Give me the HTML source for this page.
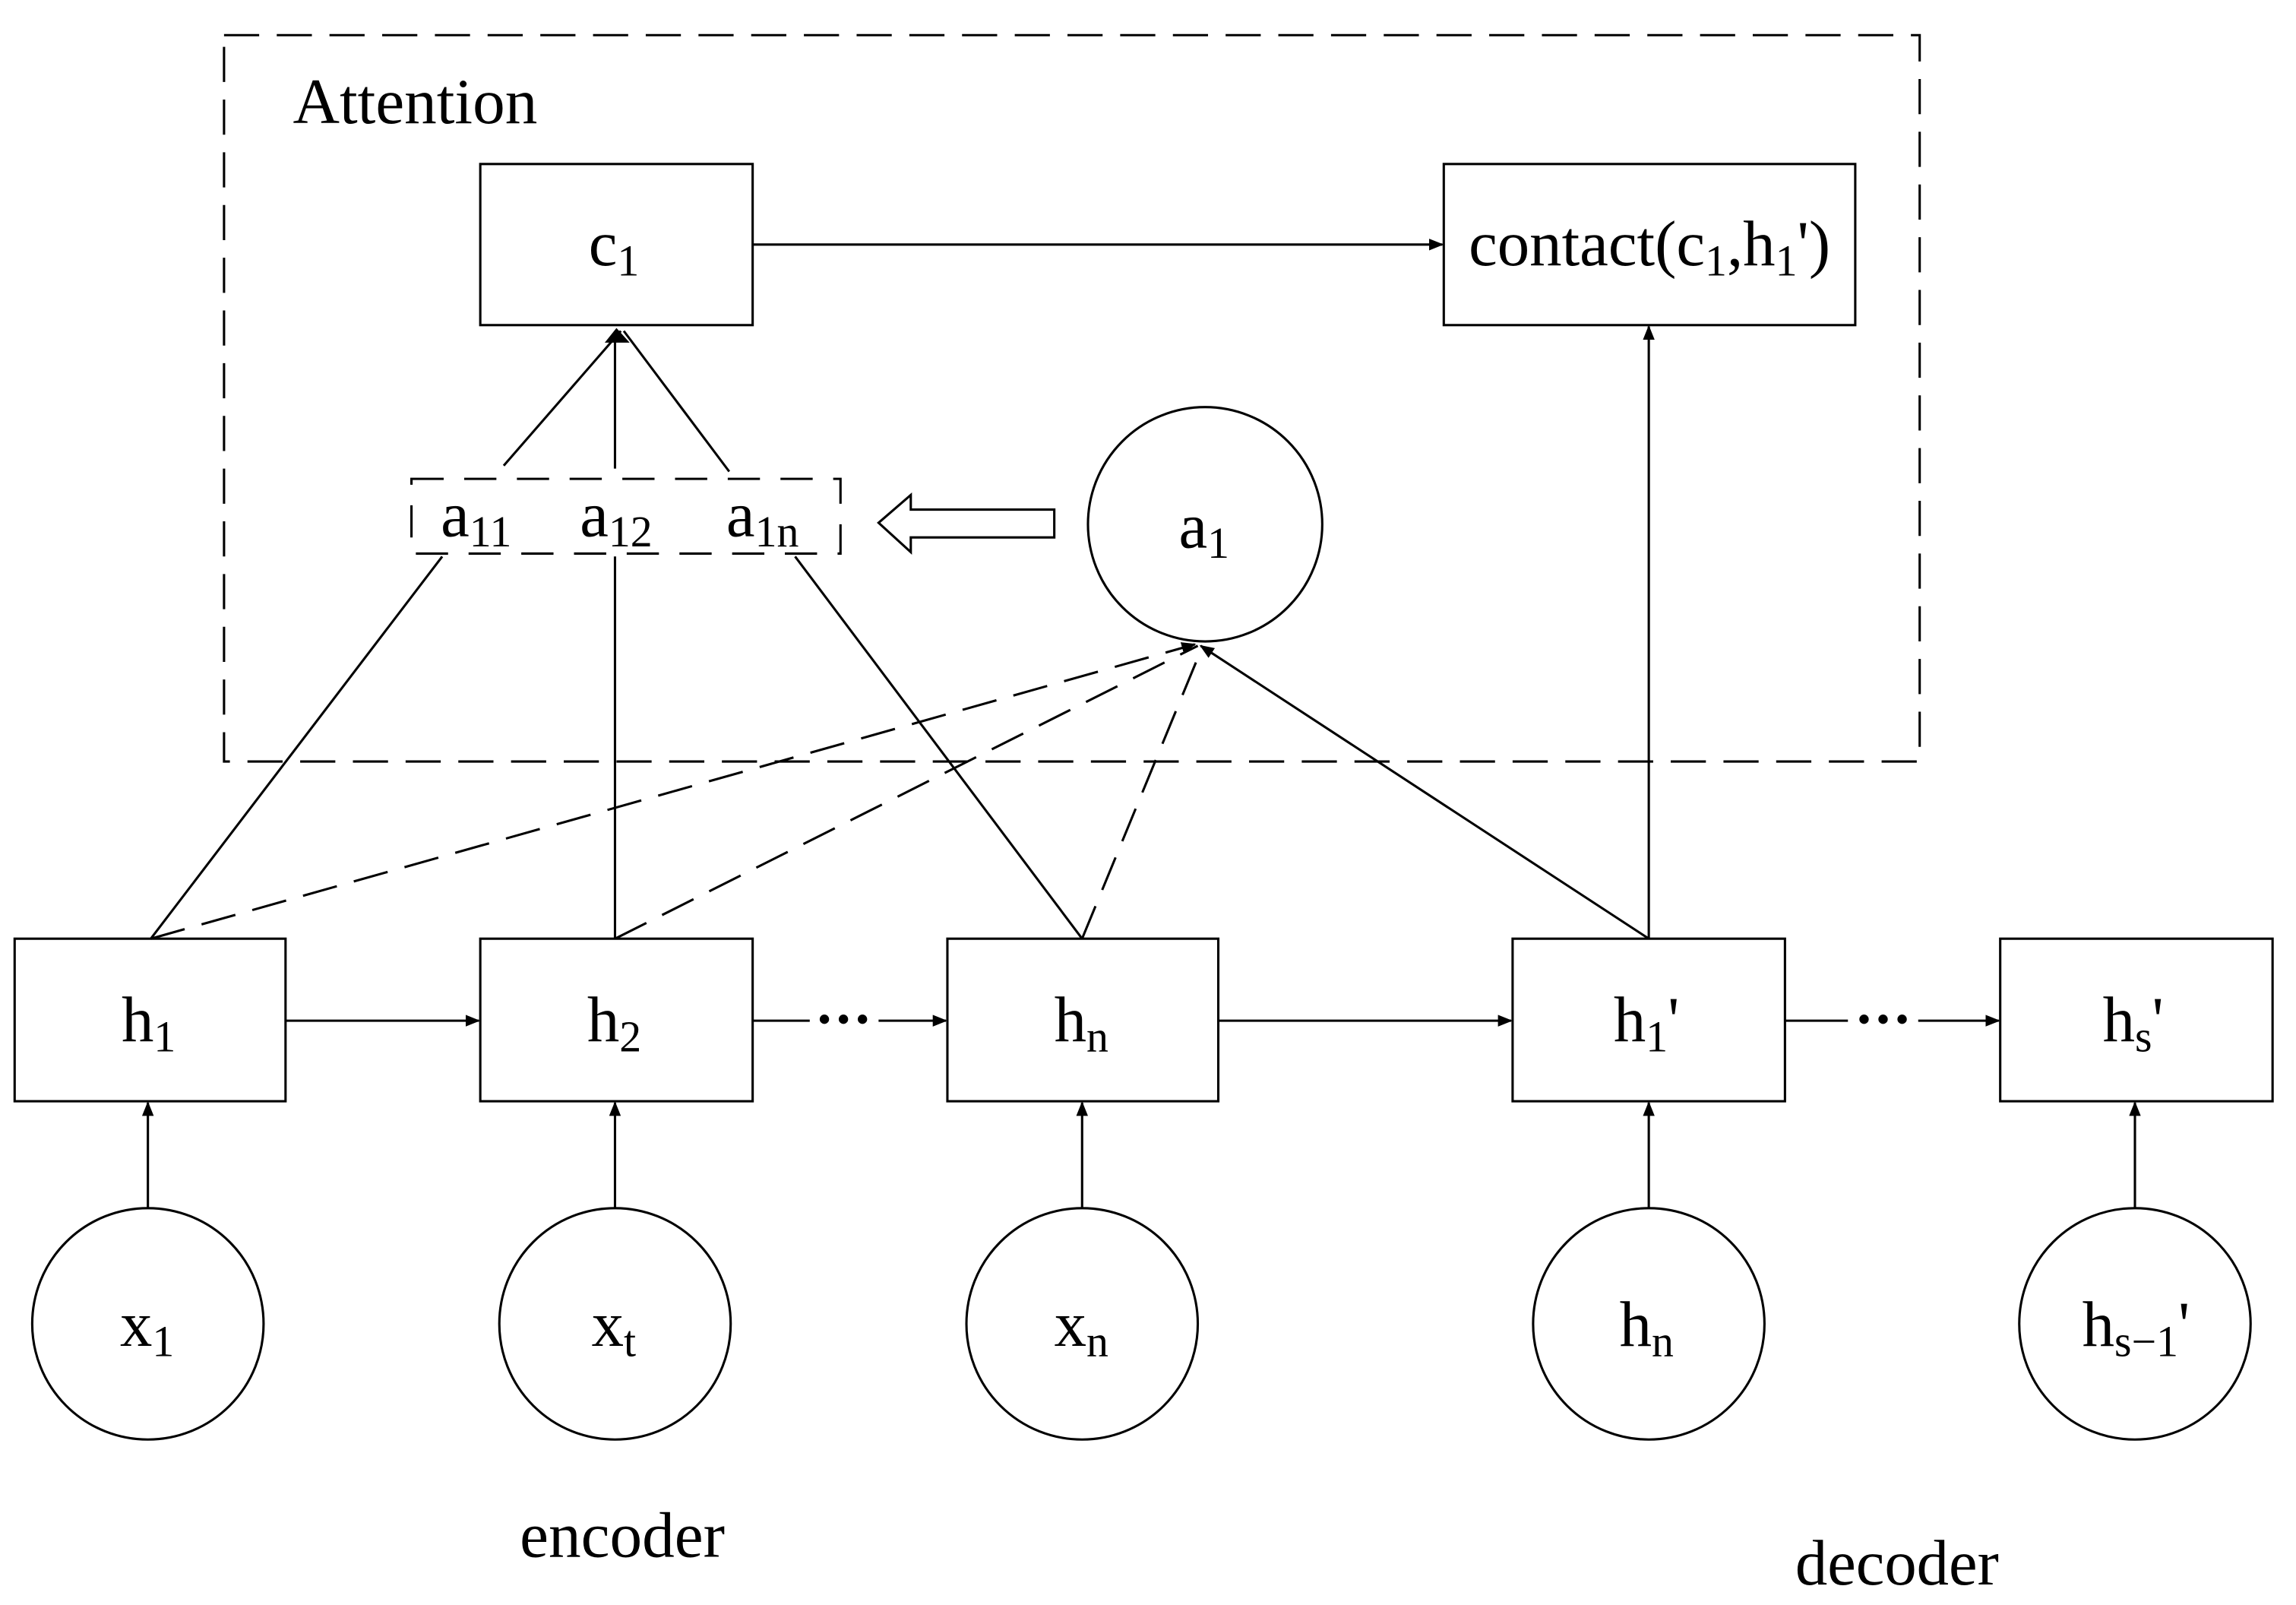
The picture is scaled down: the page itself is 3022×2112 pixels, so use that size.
<!DOCTYPE html>
<html><head><meta charset="utf-8"><style>
html,body{margin:0;padding:0;background:#fff;}
svg{display:block;}
text{font-family:"Liberation Serif",serif;fill:#000;}
</style></head><body>
<svg width="3022" height="2112" viewBox="0 0 1568 1096" preserveAspectRatio="none" xmlns="http://www.w3.org/2000/svg">
<defs>
<marker id="ar" markerWidth="10" markerHeight="8" refX="9" refY="4" orient="auto" markerUnits="userSpaceOnUse">
<path d="M0,0 L10,4 L0,8 Z" fill="#000"/>
</marker>
</defs>
<g fill="none" stroke="#000" stroke-width="1.6">
<rect x="153" y="24" width="1158" height="496" stroke-dasharray="24,12"/>
<rect x="328" y="112" width="186" height="110"/>
<rect x="986" y="112" width="281" height="110"/>
<line x1="514" y1="167" x2="985" y2="167" marker-end="url(#ar)"/>
<rect x="281" y="327" width="293" height="51" stroke-dasharray="22,14"/>
<path d="M720,348 L622,348 L622,338 L600,357 L622,377 L622,367 L720,367 Z"/>
<circle cx="823" cy="358" r="80"/>
<rect x="10" y="641" width="185" height="111"/>
<rect x="328" y="641" width="186" height="111"/>
<rect x="647" y="641" width="185" height="111"/>
<rect x="1033" y="641" width="186" height="111"/>
<rect x="1366" y="641" width="186" height="111"/>
<circle cx="101" cy="904" r="79"/>
<circle cx="420" cy="904" r="79"/>
<circle cx="739" cy="904" r="79"/>
<circle cx="1126" cy="904" r="79"/>
<circle cx="1458" cy="904" r="79"/>
<line x1="101" y1="825" x2="101" y2="753" marker-end="url(#ar)"/>
<line x1="420" y1="825" x2="420" y2="753" marker-end="url(#ar)"/>
<line x1="739" y1="825" x2="739" y2="753" marker-end="url(#ar)"/>
<line x1="1126" y1="825" x2="1126" y2="753" marker-end="url(#ar)"/>
<line x1="1458" y1="825" x2="1458" y2="753" marker-end="url(#ar)"/>
<line x1="195" y1="697" x2="327" y2="697" marker-end="url(#ar)"/>
<line x1="514" y1="697" x2="553" y2="697"/>
<line x1="600" y1="697" x2="646" y2="697" marker-end="url(#ar)"/>
<line x1="832" y1="697" x2="1032" y2="697" marker-end="url(#ar)"/>
<line x1="1219" y1="697" x2="1262" y2="697"/>
<line x1="1310" y1="697" x2="1365" y2="697" marker-end="url(#ar)"/>
<line x1="103" y1="641" x2="302" y2="380"/>
<line x1="420" y1="641" x2="420" y2="380"/>
<line x1="739" y1="641" x2="543" y2="380"/>
<line x1="344" y1="318" x2="424" y2="226"/>
<line x1="420" y1="320" x2="420" y2="226"/>
<line x1="498" y1="322" x2="426" y2="226"/>
<path d="M413,234 L421,224 L430,234 Z" fill="#000" stroke="none"/>
<line x1="103" y1="641" x2="816" y2="440" stroke-dasharray="24,12" marker-end="url(#ar)"/>
<line x1="420" y1="641" x2="818" y2="441" stroke-dasharray="24,12"/>
<line x1="739" y1="641" x2="821" y2="442" stroke-dasharray="24,12"/>
<line x1="1126" y1="641" x2="820" y2="441" marker-end="url(#ar)"/>
<line x1="1126" y1="641" x2="1126" y2="223" marker-end="url(#ar)"/>
</g>
<g fill="#000">
<circle cx="563" cy="696" r="3.2"/><circle cx="576" cy="696" r="3.2"/><circle cx="589" cy="696" r="3.2"/>
<circle cx="1273" cy="696" r="3.2"/><circle cx="1286" cy="696" r="3.2"/><circle cx="1299" cy="696" r="3.2"/>
</g>
<g font-size="44">
<text x="200" y="84" textLength="167" lengthAdjust="spacingAndGlyphs">Attention</text>
<text x="402" y="181">c<tspan font-size="30" dy="7">1</tspan></text>
<text x="1003" y="181" textLength="247" lengthAdjust="spacingAndGlyphs">contact(c<tspan font-size="30" dy="7">1</tspan><tspan dy="-7">,h</tspan><tspan font-size="30" dy="7">1</tspan><tspan dy="-7">')</tspan></text>
<text x="301" y="366">a<tspan font-size="30" dy="7">11</tspan></text>
<text x="396" y="366">a<tspan font-size="30" dy="7">12</tspan></text>
<text x="496" y="366">a<tspan font-size="30" dy="7">1n</tspan></text>
<text x="805" y="374">a<tspan font-size="30" dy="7">1</tspan></text>
<text x="83" y="711">h<tspan font-size="30" dy="7">1</tspan></text>
<text x="401" y="711">h<tspan font-size="30" dy="7">2</tspan></text>
<text x="720" y="711">h<tspan font-size="30" dy="7">n</tspan></text>
<text x="1102" y="711">h<tspan font-size="30" dy="7">1</tspan><tspan dy="-7">'</tspan></text>
<text x="1436" y="711">h<tspan font-size="30" dy="7">s</tspan><tspan dy="-7">'</tspan></text>
<text x="82" y="919">x<tspan font-size="30" dy="7">1</tspan></text>
<text x="404" y="919">x<tspan font-size="30" dy="7">t</tspan></text>
<text x="720" y="919">x<tspan font-size="30" dy="7">n</tspan></text>
<text x="1106" y="919">h<tspan font-size="30" dy="7">n</tspan></text>
<text x="1422" y="919">h<tspan font-size="30" dy="7">s−1</tspan><tspan dy="-7">'</tspan></text>
<text x="355" y="1063" textLength="140" lengthAdjust="spacingAndGlyphs">encoder</text>
<text x="1226" y="1082" textLength="139" lengthAdjust="spacingAndGlyphs">decoder</text>
</g>
</svg>
</body></html>
